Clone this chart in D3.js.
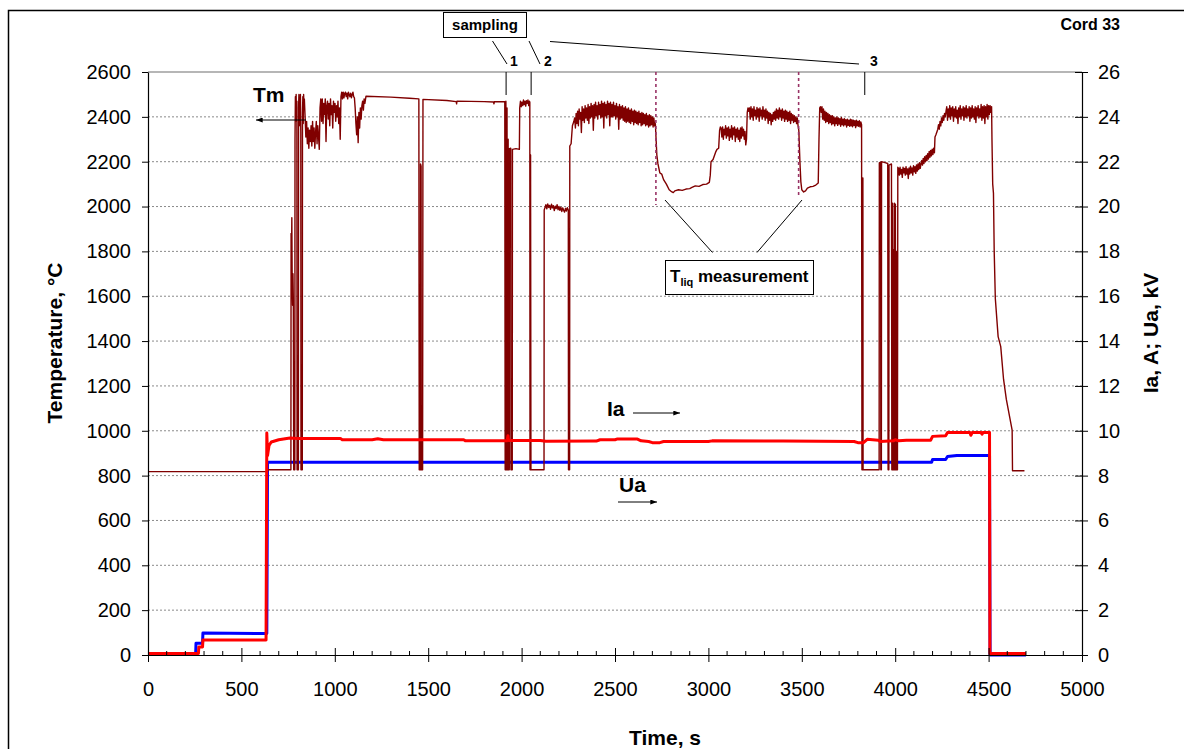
<!DOCTYPE html>
<html>
<head>
<meta charset="utf-8">
<script src="https://cdn.jsdelivr.net/npm/d3@7"></script>
<style>
  body { margin: 0; background: #fff; }
  svg { display: block; font-family: "Liberation Sans", Arial, sans-serif; }
</style>
</head>
<body>
<svg id="chart" width="1184" height="749"></svg>
<script>
// ---------------- DATA ----------------
const xTicks = [0, 500, 1000, 1500, 2000, 2500, 3000, 3500, 4000, 4500, 5000];
const xMinorTicks = d3.range(0, 5001, 100);
const leftTicks = [0, 200, 400, 600, 800, 1000, 1200, 1400, 1600, 1800, 2000, 2200, 2400, 2600];
const rightTicks = [0, 2, 4, 6, 8, 10, 12, 14, 16, 18, 20, 22, 24, 26];

// Ua, kV (right axis) [time s, value]
const uaData = [[0,0.03],[255,0.03],[257,0.52],[292,0.52],[294,0.98],[636,0.96],[640,8.6],[4195,8.6],[4200,8.72],[4270,8.72],[4280,8.85],[4330,8.9],[4505,8.9],[4508,0],[4700,0]];

// Ia, A (right axis) [time s, value]
const iaData = [[0,0.07],[270,0.07],[272,0.36],[292,0.36],[294,0.67],[632,0.67],[636,9.9],[640,8.9],[648,9.35],[660,9.5],[700,9.6],[760,9.68],[800,9.66],[1030,9.66],[1040,9.6],[1200,9.6],[1230,9.64],[1260,9.6],[1690,9.6],[1700,9.55],[1920,9.55],[1924,9.62],[1927,9.78],[1930,9.57],[2100,9.57],[2130,9.53],[2400,9.54],[2420,9.6],[2500,9.6],[2510,9.63],[2620,9.63],[2640,9.55],[2680,9.52],[2700,9.47],[2740,9.47],[2760,9.52],[3000,9.52],[3020,9.55],[3400,9.54],[3780,9.52],[3800,9.47],[3830,9.47],[3850,9.62],[3910,9.58],[3920,9.52],[3990,9.55],[4000,9.6],[4020,9.55],[4060,9.58],[4190,9.58],[4200,9.75],[4270,9.78],[4280,9.92],[4400,9.92],[4405,9.8],[4412,9.92],[4460,9.92],[4465,9.85],[4470,9.92],[4505,9.92],[4507,0.07],[4700,0.07]];

// Tm, °C (left axis): sparse [time, value] pieces and regularly sampled noisy pieces
const tmPieceA = [[0,818],[640,818],[641,826],[765,826],[766,1880],[768,1760],[770,1950],[772,1640],[774,1560],[776,1700],[778,1590],[780,826],[786,826],[787,2300],[789,2490],[791,2420],[793,2500],[795,2380],[797,2470],[798,826],[805,826],[806,2440],[808,2500],[810,2360],[812,2480],[814,2410],[816,2500],[818,2330],[819,826],[826,826],[827,2420],[829,2490],[831,2370],[833,2500],[835,2440],[837,2480]];
const tmNoise1Start = 841, tmNoise1Step = 4;
const tmNoise1 = [2400,2310,2380,2280,2350,2260,2340,2290,2360,2270, 2380,2290,2350,2260,2330,2380,2280,2360,2310,2255, 2440,2480,2380,2480,2370,2460,2410,2480,2290,2450, 2470,2390,2460,2360,2480,2410,2450,2350,2470,2420, 2460,2380,2450,2400,2470,2370,2440,2300, 2490,2510,2480,2510,2485,2505,2510,2490,2505,2480,2510,2500,2490,2505,2485,2500,2510,2490,2485, 2440,2370,2320,2400,2285,2420,2350,2440,2390, 2450,2470,2430,2480,2460];
const tmPieceB = [[1167,2492],[1300,2488],[1400,2483],[1450,2480],[1452,826],[1458,826],[1459,2190],[1462,2180],[1463,826],[1470,826],[1472,2478],[1600,2473],[1650,2468],[1652,2458],[1654,2470],[1800,2468],[1850,2466],[1852,2458],[1854,2467],[1910,2468],[1912,826],[1915,826],[1916,2470],[1918,826],[1921,826],[1922,2440],[1924,826],[1927,826],[1928,2300],[1930,826],[1934,826],[1935,2258],[1942,2260],[1943,826],[1950,826],[1951,2255],[1970,2258],[1988,2255]];
const tmNoise2Start = 1990, tmNoise2Step = 4;
const tmNoise2 = [2440,2470,2445,2465,2450,2475,2455,2470,2448,2472,2460,2475,2450,2470];
const tmPieceC = [[2044,2465],[2045,826],[2047,826],[2048,2230],[2050,826],[2120,826],[2121,1985]];
const tmPlateauStart = 2125, tmPlateauStep = 5;
const tmPlateau = [1995,2008,1990,2012,1996,2005,1988,2010,1994,2004,1982,2002,1991,2008,1986,2000,1983,1997,1978,1994,1984,1975,1992,1980,1995];
const tmPieceD = [[2250,1985],[2251,826],[2257,826],[2258,2270],[2265,2280],[2272,2360],[2280,2380]];
const tmNoise3Start = 2284, tmNoise3Step = 4;
const tmNoise3 = [2395,2350,2415,2370,2425,2360,2435,2390,2420,2330, 2445,2385,2435,2375,2450,2395,2440,2385,2455,2370, 2445,2395,2460,2400,2450,2340,2455,2395,2465,2405, 2450,2390,2465,2410,2455,2395,2470,2400,2460,2350, 2465,2405,2455,2395,2470,2410,2460,2360,2465,2400, 2455,2400,2465,2405,2450,2390,2460,2400,2445,2345, 2455,2390,2445,2395,2450,2385,2440,2380,2445,2375, 2435,2380,2440,2375,2430,2370,2435,2380,2425,2365, 2430,2375,2425,2370,2420,2365,2425,2375,2415,2360, 2420,2365,2415,2370,2410,2360,2415,2365,2405,2355, 2410,2360,2405,2365,2400,2355,2395,2360];
const tmPieceE = [[2716,2370],[2720,2300],[2724,2230],[2730,2190],[2740,2150],[2750,2145],[2760,2120],[2775,2100],[2790,2075],[2800,2068],[2812,2062],[2820,2070],[2840,2075],[2860,2072],[2880,2078],[2900,2080],[2912,2085],[2930,2092],[2950,2090],[2970,2098],[2990,2100],[3005,2108],[3010,2140],[3014,2200],[3025,2210],[3040,2245],[3046,2255],[3055,2260],[3060,2340],[3064,2355]];
const tmNoise4Start = 3068, tmNoise4Step = 4;
const tmNoise4 = [2350,2310,2355,2300,2345,2320,2360,2305,2350,2315, 2355,2295,2345,2310,2360,2300,2350,2320,2355,2290, 2345,2310,2350,2300,2340,2290,2350,2305,2355,2315, 2345,2300,2335,2275,2300];
const tmPieceF = [[3208,2420],[3212,2440]];
const tmNoise5Start = 3216, tmNoise5Step = 4;
const tmNoise5 = [2425,2440,2390,2445,2400,2435,2385,2445,2405,2430, 2390,2442,2400,2435,2380,2440,2405,2430,2390,2445, 2400,2430,2385,2435,2395,2425,2370,2420,2385,2415, 2365,2410,2380,2420,2390,2425,2385,2435,2395,2430, 2390,2440,2400,2430,2385,2435,2395,2425,2380,2430, 2390,2425,2380,2420,2385,2425,2370,2415,2385,2410, 2375,2405,2380,2400,2370,2395,2360];
const tmPieceG = [[3484,2340],[3490,2200],[3495,2110],[3500,2075],[3510,2065],[3520,2070],[3530,2082],[3545,2088],[3560,2090],[3575,2096],[3588,2105],[3592,2300],[3596,2440],[3600,2445]];
const tmNoise6Start = 3604, tmNoise6Step = 4;
const tmNoise6 = [2420,2445,2390,2435,2385,2425,2375,2420,2380,2415, 2370,2410,2375,2405,2365,2405,2370,2400,2360,2395, 2370,2400,2362,2395,2368,2392,2358,2397,2365,2390, 2360,2392,2365,2387,2355,2390,2362,2385,2358,2389, 2360,2387,2356,2385,2362,2383,2352,2385,2360,2380, 2358,2383,2355,2377,2365];
const tmPieceH = [[3822,826],[3826,826],[3827,2127],[3828,826],[3914,826],[3915,2195],[3922,2198],[3923,826],[3926,826],[3927,2200],[3950,2195],[3960,2192],[3962,826],[3966,826],[3967,2185],[3980,2190],[3982,826],[3985,826],[3986,2015],[3988,826],[3991,1806],[3993,826],[3996,2015],[3998,826],[4001,2010],[4003,826],[4006,1800],[4008,826],[4012,826],[4014,2175]];
const tmNoise7Start = 4018, tmNoise7Step = 4;
const tmNoise7 = [2170,2140,2175,2145,2165,2130,2175,2150,2170,2140, 2178,2145,2168,2125,2172,2145,2180,2150,2172,2140, 2182,2155,2178,2148,2186,2158,2190,2165,2196,2170, 2190,2205,2185,2215,2192,2222,2200,2228,2205,2236, 2212,2246,2220,2250,2226,2256,2232,2260,2240];
const tmPieceI = [[4213,2310],[4218,2320],[4224,2335]];
const tmNoise8Start = 4228, tmNoise8Step = 4;
const tmNoise8 = [2345,2365,2345,2380,2360,2395,2375,2405,2385,2415,2400, 2425,2445,2385,2435,2400,2450,2390,2440,2405,2445, 2380,2435,2400,2445,2395,2430,2370,2440,2400,2450, 2390,2435,2405,2445,2385,2440,2400,2450,2395,2435, 2405,2445,2380,2440,2395,2450,2400,2435,2390,2445, 2375,2440,2405,2450,2395,2435,2400,2455,2385,2445, 2395,2450,2370,2445,2400,2455,2390,2450,2410,2450,2420,2445];
const tmPieceJ = [[4518,2300],[4522,2100],[4526,2060],[4530,1800],[4536,1590],[4551,1420],[4565,1375],[4580,1230],[4595,1140],[4626,1003],[4628,822],[4692,822]];

// ---------------- BUILD ----------------
function sampled(t0, step, vals) { return vals.map((v, i) => [t0 + i * step, v]); }
const tmData = [].concat(
  tmPieceA, sampled(tmNoise1Start, tmNoise1Step, tmNoise1),
  tmPieceB, sampled(tmNoise2Start, tmNoise2Step, tmNoise2),
  tmPieceC, sampled(tmPlateauStart, tmPlateauStep, tmPlateau),
  tmPieceD, sampled(tmNoise3Start, tmNoise3Step, tmNoise3),
  tmPieceE, sampled(tmNoise4Start, tmNoise4Step, tmNoise4),
  tmPieceF, sampled(tmNoise5Start, tmNoise5Step, tmNoise5),
  tmPieceG, sampled(tmNoise6Start, tmNoise6Step, tmNoise6),
  tmPieceH, sampled(tmNoise7Start, tmNoise7Step, tmNoise7),
  tmPieceI, sampled(tmNoise8Start, tmNoise8Step, tmNoise8),
  tmPieceJ
);

const svg = d3.select("#chart");
const L = 148, R = 1082, T = 72, B = 655;
const x = d3.scaleLinear().domain([0, 5000]).range([L, R]);
const yL = d3.scaleLinear().domain([0, 2600]).range([B, T]);
const yR = d3.scaleLinear().domain([0, 26]).range([B, T]);

svg.append("rect").attr("width", 1184).attr("height", 749).attr("fill", "#fff");
// outer frame
svg.append("rect").attr("x", 8.5).attr("y", 10.5).attr("width", 1300).attr("height", 900)
  .attr("fill", "none").attr("stroke", "#000").attr("stroke-width", 1.5);

const defs = svg.append("defs");
defs.append("marker").attr("id", "arr").attr("viewBox", "0 0 8 6")
  .attr("refX", 8).attr("refY", 3).attr("markerWidth", 7).attr("markerHeight", 5)
  .attr("markerUnits", "userSpaceOnUse").attr("orient", "auto")
  .append("path").attr("d", "M0,0 L8,3 L0,6 Z").attr("fill", "#000");

// gridlines
svg.append("g").selectAll("line").data(leftTicks.filter(d => d > 0 && d < 2600)).join("line")
  .attr("x1", L).attr("x2", R).attr("y1", d => yL(d)).attr("y2", d => yL(d))
  .attr("stroke", "#8a8a8a").attr("stroke-width", 1).attr("stroke-dasharray", "2,2");
svg.append("line").attr("x1", L).attr("x2", R).attr("y1", yL(2600)).attr("y2", yL(2600))
  .attr("stroke", "#6e6e6e").attr("stroke-width", 1.2);

// series
const lineT = d3.line().x(d => x(d[0])).y(d => yL(d[1]));
const lineR = d3.line().x(d => x(d[0])).y(d => yR(d[1]));
svg.append("path").datum(uaData).attr("d", lineR).attr("fill", "none")
  .attr("stroke", "#0000ff").attr("stroke-width", 3).attr("stroke-linejoin", "round");
svg.append("path").datum(tmData).attr("d", lineT).attr("fill", "none")
  .attr("stroke", "#800000").attr("stroke-width", 1.4).attr("stroke-linejoin", "round");
svg.append("path").datum(iaData).attr("d", lineR).attr("fill", "none")
  .attr("stroke", "#ff0000").attr("stroke-width", 3).attr("stroke-linejoin", "round");

// axes
const fs = "20px";
const fmt = d3.format("d");
const gL = svg.append("g").attr("transform", `translate(${L},0)`)
  .call(d3.axisLeft(yL).tickValues(leftTicks).tickFormat(fmt).tickSize(6).tickSizeOuter(0).tickPadding(11));
const gR = svg.append("g").attr("transform", `translate(${R},0)`)
  .call(d3.axisRight(yR).tickValues(rightTicks).tickFormat(fmt).tickSize(6).tickSizeOuter(0).tickPadding(10));
gR.selectAll(".tick line").attr("x1", -7).attr("x2", 6);
const gB = svg.append("g").attr("transform", `translate(0,${B})`)
  .call(d3.axisBottom(x).tickValues(xTicks).tickFormat(fmt).tickSize(7).tickSizeOuter(0).tickPadding(26));
gB.selectAll(".tick line").attr("y1", -7).attr("y2", 7);
gB.selectAll(".tick text").attr("dy", null).attr("y", 41);
svg.append("g").selectAll("line").data(xMinorTicks.filter(d => d % 500 !== 0)).join("line")
  .attr("x1", d => x(d)).attr("x2", d => x(d)).attr("y1", B - 4).attr("y2", B)
  .attr("stroke", "#000");
[gL, gR, gB].forEach(g => {
  g.selectAll("text").attr("font-size", fs).attr("fill", "#000")
    .attr("font-family", "'Liberation Sans', Arial, sans-serif");
  g.selectAll("line").attr("stroke", "#000");
  g.select(".domain").attr("stroke", "#000").attr("stroke-width", 1.2);
});

// axis titles
svg.append("text").attr("transform", "translate(62,343) rotate(-90)")
  .attr("text-anchor", "middle").attr("font-weight", "bold").attr("font-size", 21)
  .text("Temperature, °C");
svg.append("text").attr("transform", "translate(1158,333) rotate(-90)")
  .attr("text-anchor", "middle").attr("font-weight", "bold").attr("font-size", 21)
  .text("Ia, A; Ua, kV");
svg.append("text").attr("x", 665).attr("y", 745).attr("text-anchor", "middle")
  .attr("font-weight", "bold").attr("font-size", 21).text("Time, s");

// labels
svg.append("text").attr("x", 1120).attr("y", 30).attr("text-anchor", "end")
  .attr("font-weight", "bold").attr("font-size", 16).text("Cord 33");
svg.append("text").attr("x", 253).attr("y", 102).attr("font-weight", "bold").attr("font-size", 21).text("Tm");
svg.append("line").attr("x1", 306).attr("y1", 120).attr("x2", 256).attr("y2", 120)
  .attr("stroke", "#000").attr("stroke-width", 1).attr("marker-end", "url(#arr)");
svg.append("text").attr("x", 607).attr("y", 416).attr("font-weight", "bold").attr("font-size", 21).text("Ia");
svg.append("line").attr("x1", 633).attr("y1", 413).attr("x2", 680).attr("y2", 413)
  .attr("stroke", "#000").attr("stroke-width", 1).attr("marker-end", "url(#arr)");
svg.append("text").attr("x", 619).attr("y", 492).attr("font-weight", "bold").attr("font-size", 21).text("Ua");
svg.append("line").attr("x1", 618).attr("y1", 502).attr("x2", 657).attr("y2", 502)
  .attr("stroke", "#000").attr("stroke-width", 1).attr("marker-end", "url(#arr)");

// sampling annotation
svg.append("rect").attr("x", 443.5).attr("y", 12.5).attr("width", 83).attr("height", 25)
  .attr("fill", "#fff").attr("stroke", "#000").attr("stroke-width", 1);
svg.append("text").attr("x", 485).attr("y", 30).attr("text-anchor", "middle")
  .attr("font-weight", "bold").attr("font-size", 15).text("sampling");
const samp = [[492.5, 41, 507, 64], [529, 41, 540, 64], [550, 41.5, 859, 64]];
svg.append("g").selectAll("line").data(samp).join("line")
  .attr("x1", d => d[0]).attr("y1", d => d[1]).attr("x2", d => d[2]).attr("y2", d => d[3])
  .attr("stroke", "#000").attr("stroke-width", 1);
const sampNums = [[510, "1"], [544, "2"], [870, "3"]];
svg.append("g").selectAll("text").data(sampNums).join("text")
  .attr("x", d => d[0]).attr("y", 66).attr("font-weight", "bold").attr("font-size", 14).text(d => d[1]);
const sampTimes = [1917, 2051, 3837];
svg.append("g").selectAll("line").data(sampTimes).join("line")
  .attr("x1", d => x(d)).attr("x2", d => x(d)).attr("y1", T).attr("y2", 95)
  .attr("stroke", "#000").attr("stroke-width", 1);

// Tliq measurement annotation
const tliqTimes = [[2719, 2007], [3483, 2040]];
svg.append("g").selectAll("line").data(tliqTimes).join("line")
  .attr("x1", d => x(d[0])).attr("x2", d => x(d[0])).attr("y1", T).attr("y2", d => yL(d[1]))
  .attr("stroke", "#993366").attr("stroke-width", 1.6).attr("stroke-dasharray", "3,3");
svg.append("line").attr("x1", 712.5).attr("y1", 252.5).attr("x2", 665).attr("y2", 200).attr("stroke", "#000");
svg.append("line").attr("x1", 757).attr("y1", 252.5).attr("x2", 802).attr("y2", 200).attr("stroke", "#000");
svg.append("rect").attr("x", 665.5).attr("y", 260.5).attr("width", 148).attr("height", 34)
  .attr("fill", "#fff").attr("stroke", "#000").attr("stroke-width", 1);
const tl = svg.append("text").attr("x", 670).attr("y", 282).attr("font-weight", "bold").attr("font-size", 17);
tl.append("tspan").text("T");
tl.append("tspan").attr("font-size", 11).attr("dy", 4).text("liq");
tl.append("tspan").attr("dy", -4).text(" measurement");
</script>
</body>
</html>
